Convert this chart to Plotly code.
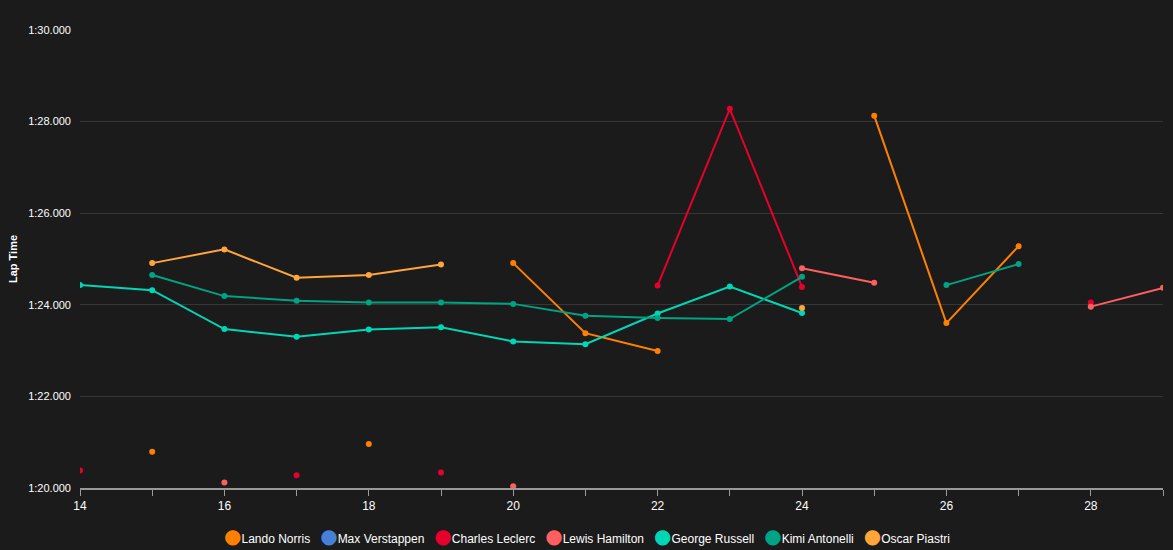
import plotly.graph_objects as go

laps = list(range(14, 30))

drivers = ["Lando Norris", "Max Verstappen", "Charles Leclerc", "Lewis Hamilton",
           "George Russell", "Kimi Antonelli", "Oscar Piastri"]
colors = ["#FF8000", "#4781D7", "#E8002D", "#FF5F5F", "#00D7B6", "#00A383", "#FFA53A"]

norris = [None, 80.79, None, None, 80.96, None, 84.91, 83.38, 82.99, None, None, 88.13, 83.60, 85.28, None, None]
verstappen = [None] * 16
leclerc = [80.38, None, None, 80.28, None, 80.34, None, None, 84.42, 88.28, 84.39, None, None, None, 84.05, None]
hamilton = [None, None, 80.12, None, None, None, 80.04, None, None, None, 84.80, 84.48, None, None, 83.96, 84.37]
russell = [84.43, 84.32, 83.47, 83.30, 83.46, 83.51, 83.20, 83.14, 83.81, 84.40, 83.82, None, None, None, None, None]
antonelli = [None, 84.65, 84.19, 84.09, 84.05, 84.05, 84.02, 83.76, 83.71, 83.69, 84.61, None, 84.43, 84.89, None, None]
piastri = [None, 84.91, 85.21, 84.59, 84.65, 84.88, None, None, None, None, 83.93, None, None, None, None, None]

series = [norris, verstappen, leclerc, hamilton, russell, antonelli, piastri]

y_ticks = [80, 82, 84, 86, 88, 90]
y_labels = ["1:20.000", "1:22.000", "1:24.000", "1:26.000", "1:28.000", "1:30.000"]

FONT = "Liberation Sans, Arial, Helvetica, sans-serif"

fig = go.Figure()
for name, color, vals in zip(drivers, colors, series):
    fig.add_trace(go.Scatter(
        x=laps, y=vals, mode="lines+markers", name=name,
        showlegend=False, connectgaps=False,
        line=dict(color=color, width=2),
        marker=dict(color=color, size=6),
        hoverinfo="x+y+name",
    ))

# compact legend row (circle swatch + name), centred under the chart
legend_text = "&nbsp;&nbsp;&nbsp;".join(
    f'<span style="color:{c};font-size:20px;font-family:DejaVu Sans">●</span>'
    f'<span style="font-size:12px">{n}</span>'
    for n, c in zip(drivers, colors)
)
fig.add_annotation(
    text=legend_text, xref="paper", yref="paper",
    x=(586.5 - 80) / 1083, y=-(536 - 488) / 458,
    xanchor="center", yanchor="middle", showarrow=False,
    font=dict(family=FONT, size=12, color="#ffffff"),
)

fig.update_layout(
    width=1173, height=550,
    paper_bgcolor="#1b1b1b", plot_bgcolor="#1b1b1b",
    margin=dict(l=80, r=10, t=30, b=62, autoexpand=False),
    font=dict(family=FONT, color="#ffffff", size=12),
    showlegend=False,
)
fig.update_xaxes(
    range=[14, 29], tickmode="linear", tick0=14, dtick=2, automargin=False,
    showgrid=False, zeroline=False,
    showline=True, linecolor="#999999", linewidth=1.5,
    ticks="outside", ticklen=6, tickcolor="#999999",
    minor=dict(dtick=1, tick0=14, ticks="outside", ticklen=6, tickcolor="#999999", showgrid=False),
    tickfont=dict(size=12, color="#ffffff"),
)
fig.update_yaxes(
    range=[80, 90], tickvals=y_ticks, ticktext=y_labels, automargin=False,
    showgrid=True, gridcolor="#363636", gridwidth=1, zeroline=False, showline=False,
    ticks="", ticklabelstandoff=8,
    tickfont=dict(size=11, color="#ffffff"),
    title=dict(text="<b>Lap Time</b>", font=dict(size=11, color="#ffffff"), standoff=8),
)

fig.write_html("out.html")
